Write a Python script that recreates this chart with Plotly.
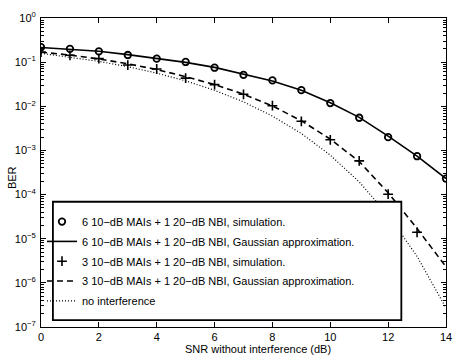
import plotly.graph_objects as go

snr = [0, 1, 2, 3, 4, 5, 6, 7, 8, 9, 10, 11, 12, 13, 14]

# 6 10-dB MAIs + 1 20-dB NBI
sim6 = [0.218, 0.200, 0.175, 0.145, 0.120, 0.101, 0.0748, 0.0516, 0.0386,
        0.0232, 0.0118, 0.0055, 0.0020, 7.4e-4, 2.3e-4]
gauss6 = [0.215, 0.198, 0.176, 0.148, 0.122, 0.099, 0.0760, 0.0530, 0.0375,
          0.0230, 0.0120, 0.0056, 0.0021, 7.4e-4, 2.3e-4]

# 3 10-dB MAIs + 1 20-dB NBI
snr_sim3 = [0, 1, 2, 3, 4, 5, 6, 7, 8, 9, 10, 11, 12, 13]
sim3 = [0.169, 0.143, 0.120, 0.086, 0.070, 0.0434, 0.031, 0.0187, 0.0103,
        0.00457, 0.00174, 5.8e-4, 1.02e-4, 1.4e-5]
gauss3 = [0.168, 0.145, 0.118, 0.092, 0.068, 0.047, 0.031, 0.0188, 0.0102,
          0.0047, 0.00180, 5.6e-4, 1.1e-4, 1.7e-5, 2.3e-6]

# no interference
noint = [0.1587, 0.1309, 0.104, 0.0789, 0.0565, 0.0377, 0.0230, 0.0126,
         0.0060, 0.00242, 7.83e-4, 1.94e-4, 3.43e-5, 3.97e-6, 2.7e-7]

labels = [
    "6 10\u2212dB MAIs + 1 20\u2212dB NBI, simulation.",
    "6 10\u2212dB MAIs + 1 20\u2212dB NBI, Gaussian approximation.",
    "3 10\u2212dB MAIs + 1 20\u2212dB NBI, simulation.",
    "3 10\u2212dB MAIs + 1 20\u2212dB NBI, Gaussian approximation.",
    "no interference",
]

ytickvals = [1, 0.1, 0.01, 1e-3, 1e-4, 1e-5, 1e-6, 1e-7]
yticktext = ["10<sup>0</sup>", "10<sup>\u22121</sup>", "10<sup>\u22122</sup>",
             "10<sup>\u22123</sup>", "10<sup>\u22124</sup>", "10<sup>\u22125</sup>",
             "10<sup>\u22126</sup>", "10<sup>\u22127</sup>"]
yminorvals = [k * 10.0 ** e for e in range(-7, 0) for k in range(2, 10)]
xtickvals = [0, 2, 4, 6, 8, 10, 12, 14]

FONT = "Liberation Sans, Arial, Helvetica, sans-serif"

fig = go.Figure()
fig.add_trace(go.Scatter(x=snr, y=sim6, mode="markers", name=labels[0], legendgroup="a",
                         marker=dict(symbol="circle-open", size=6.5, color="black",
                                     line=dict(width=1.8, color="black"))))
fig.add_trace(go.Scatter(x=snr, y=gauss6, mode="lines", name=labels[1], legendgroup="b",
                         line=dict(color="black", width=1.6)))
fig.add_trace(go.Scatter(x=snr_sim3, y=sim3, mode="markers", name=labels[2], legendgroup="c",
                         marker=dict(symbol="cross-thin-open", size=7, color="black",
                                     line=dict(width=1.6, color="black"))))
fig.add_trace(go.Scatter(x=snr, y=gauss3, mode="lines", name=labels[3], legendgroup="d",
                         line=dict(color="black", width=1.6, dash="6px,4px")))
fig.add_trace(go.Scatter(x=snr, y=noint, mode="lines", name=labels[4], legendgroup="e",
                         line=dict(color="black", width=1.2, dash="1px,2px")))

# legend frame
fig.add_shape(type="rect", xref="paper", yref="paper",
              x0=(53 - 41) / 408, x1=(404 - 41) / 408,
              y0=(327 - 320) / 317, y1=(327 - 198.5) / 317,
              fillcolor="white", line=dict(color="black", width=1.8), layer="above")

axis_common = dict(showline=True, linecolor="black", linewidth=1, mirror="ticks",
                   ticks="inside", tickcolor="black", showgrid=False, zeroline=False,
                   tickfont=dict(family=FONT, size=11, color="black"))

fig.update_xaxes(range=[0, 14], tickvals=xtickvals, ticklen=5, **axis_common)
fig.update_yaxes(type="log", range=[-7, 0], tickvals=ytickvals, ticktext=yticktext,
                 ticklen=5, ticklabelstandoff=2,
                 minor=dict(tickvals=yminorvals, ticks="inside", ticklen=3,
                            tickcolor="black", showgrid=False),
                 **axis_common)

fig.add_annotation(text="BER", xref="paper", yref="paper", x=(12 - 41) / 408,
                   y=(327 - 174) / 317, showarrow=False, textangle=-90,
                   font=dict(family=FONT, size=11, color="black"),
                   xanchor="center", yanchor="middle")
fig.add_annotation(text="SNR without interference (dB)", xref="paper", yref="paper",
                   x=(260 - 41) / 408, y=(327 - 350) / 317, showarrow=False,
                   font=dict(family=FONT, size=11, color="black"),
                   xanchor="center", yanchor="middle")

fig.update_layout(
    width=462, height=362,
    margin=dict(l=41, r=13, t=10, b=35),
    paper_bgcolor="white", plot_bgcolor="white",
    showlegend=True,
    legend=dict(x=(42 - 41) / 408, y=(327 - 204) / 317, xanchor="left", yanchor="top",
                bgcolor="rgba(0,0,0,0)", borderwidth=0, traceorder="grouped",
                tracegroupgap=0.8, font=dict(family=FONT, size=11, color="black")),
    font=dict(family=FONT, size=11, color="black"),
)

fig.write_html("out.html", config={"displayModeBar": False},
               post_script="document.body.style.margin='0';document.body.style.padding='0';"
                           "document.body.style.overflow='hidden';")
